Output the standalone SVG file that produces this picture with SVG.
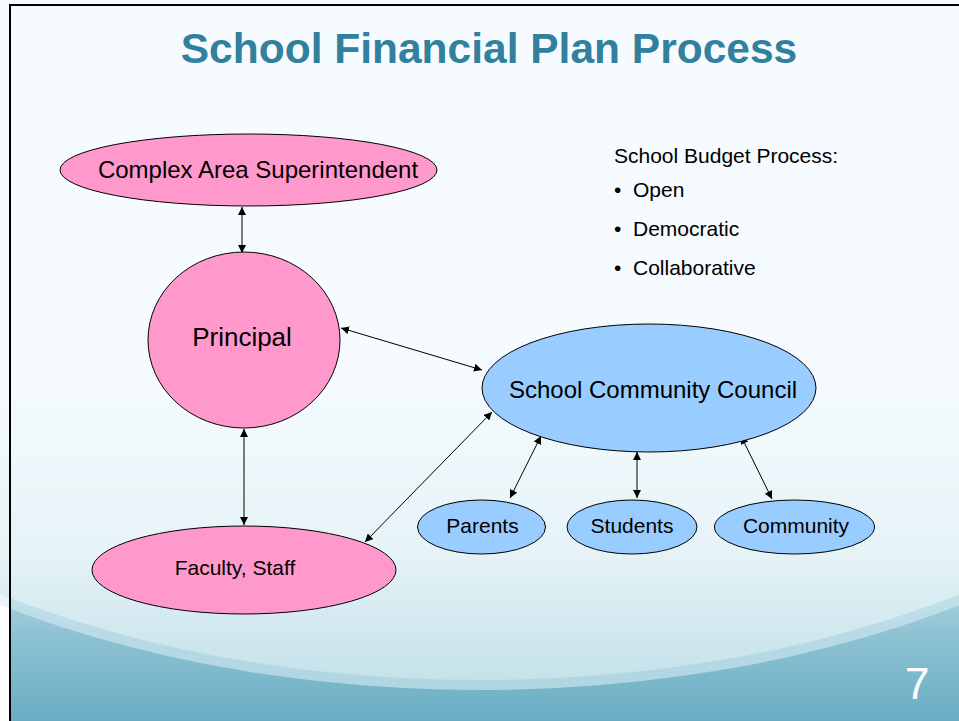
<svg xmlns="http://www.w3.org/2000/svg" width="959" height="721" viewBox="0 0 959 721">
  <defs>
    <linearGradient id="teal" x1="0" y1="560" x2="0" y2="721" gradientUnits="userSpaceOnUse">
      <stop offset="0" stop-color="#B4D9E4"/>
      <stop offset="0.5" stop-color="#8BC1D2"/>
      <stop offset="1" stop-color="#69ADC3"/>
    </linearGradient>
    <linearGradient id="light" x1="0" y1="380" x2="0" y2="690" gradientUnits="userSpaceOnUse">
      <stop offset="0" stop-color="#F5FBFE"/>
      <stop offset="0.55" stop-color="#E6F3F7"/>
      <stop offset="1" stop-color="#C2E0E9"/>
    </linearGradient>
    <marker id="ah" viewBox="0 0 10 10" refX="10" refY="5" markerWidth="8" markerHeight="8" markerUnits="userSpaceOnUse" orient="auto-start-reverse">
      <path d="M0,0 L10,5 L0,10 z" fill="#000"/>
    </marker>
  </defs>
  <style>
    .pink { fill: #FF99CC; stroke: #000; stroke-width: 1; }
    .blue { fill: #99CCFF; stroke: #000; stroke-width: 1; }
    .lbl { font-family: "Liberation Sans", Arial, sans-serif; fill: #000; text-anchor: middle; }
    .side { font-family: "Liberation Sans", Arial, sans-serif; fill: #000; font-size: 21px; }
    .conn line { stroke: #000; stroke-width: 1; marker-start: url(#ah); marker-end: url(#ah); }
  </style>

  <rect x="0" y="0" width="959" height="721" fill="#FFFFFF"/>
  <rect x="11" y="6" width="948" height="715" fill="url(#teal)"/>
  <ellipse cx="480" cy="240" rx="820" ry="450" fill="#D6EBF1" opacity="0.6"/>
  <ellipse cx="480" cy="250" rx="800" ry="430" fill="url(#light)"/>
  <rect x="11" y="6" width="948" height="380" fill="#F5FBFE"/>
  <line x1="10" y1="5" x2="959" y2="5" stroke="#000" stroke-width="2"/>
  <line x1="10" y1="4" x2="10" y2="721" stroke="#000" stroke-width="2"/>

  <text x="489" y="63" font-family="'Liberation Sans', Arial, sans-serif" font-size="42.5" font-weight="bold" fill="#31809E" text-anchor="middle">School Financial Plan Process</text>

  <g id="budget-notes">
    <text class="side" x="614" y="163">School Budget Process:</text>
    <text class="side" x="614" y="197">•</text>
    <text class="side" x="633" y="197">Open</text>
    <text class="side" x="614" y="236">•</text>
    <text class="side" x="633" y="236">Democratic</text>
    <text class="side" x="614" y="275">•</text>
    <text class="side" x="633" y="275">Collaborative</text>
  </g>

  <g class="conn" id="connectors">
    <line x1="242" y1="207" x2="242" y2="253"/>
    <line x1="341" y1="328" x2="482" y2="370"/>
    <line x1="244" y1="429" x2="244" y2="525"/>
    <line x1="365" y1="542" x2="492" y2="412"/>
    <line x1="510" y1="498" x2="541" y2="436"/>
    <line x1="637" y1="452" x2="637" y2="498"/>
    <line x1="741" y1="436" x2="772" y2="499"/>
  </g>

  <g id="cas">
    <ellipse class="pink" cx="248.5" cy="170" rx="188.5" ry="36"/>
    <text class="lbl" x="258" y="178" font-size="24">Complex Area Superintendent</text>
  </g>
  <g id="principal">
    <ellipse class="pink" cx="244" cy="340" rx="96" ry="88"/>
    <text class="lbl" x="242" y="346" font-size="26">Principal</text>
  </g>
  <g id="faculty">
    <ellipse class="pink" cx="244" cy="570" rx="152" ry="44"/>
    <text class="lbl" x="235" y="575" font-size="21">Faculty, Staff</text>
  </g>
  <g id="scc">
    <ellipse class="blue" cx="649" cy="388" rx="167" ry="64"/>
    <text class="lbl" x="653" y="398" font-size="24">School Community Council</text>
  </g>
  <g id="parents">
    <ellipse class="blue" cx="481.5" cy="527" rx="64" ry="27"/>
    <text class="lbl" x="482.5" y="533" font-size="21">Parents</text>
  </g>
  <g id="students">
    <ellipse class="blue" cx="632" cy="527" rx="65" ry="27"/>
    <text class="lbl" x="632" y="533" font-size="21">Students</text>
  </g>
  <g id="community">
    <ellipse class="blue" cx="794.5" cy="527" rx="80" ry="27"/>
    <text class="lbl" x="796" y="533" font-size="21">Community</text>
  </g>

  <text x="905" y="699" font-family="'Liberation Sans', Arial, sans-serif" font-size="44" fill="#FFFFFF">7</text>
</svg>
